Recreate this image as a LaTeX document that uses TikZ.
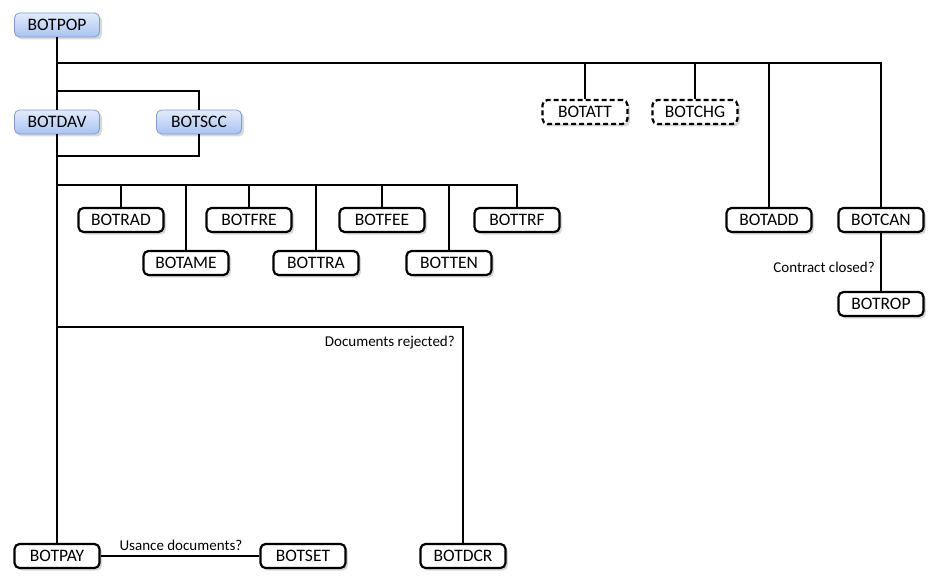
\documentclass[tikz,border=0pt]{standalone}
\usepackage{fontspec}
\setmainfont{Carlito}
\usetikzlibrary{shadows}
\definecolor{bltop}{HTML}{E2EBFC}
\definecolor{blbot}{HTML}{A9C3F0}
\definecolor{blln}{HTML}{7F9CD0}
\tikzset{b/.style={draw,rounded corners=5pt,line width=2.2pt,fill=white,minimum width=85pt,minimum height=24pt,inner sep=0pt,font=\fontsize{17.5}{20}\selectfont,drop shadow={shadow xshift=2.5pt,shadow yshift=-2.5pt,opacity=.3}},bl/.style={b,draw=blln,line width=.8pt,top color=bltop,bottom color=blbot},dsh/.style={b,dash pattern=on 5pt off 3pt},ln/.style={line width=2.4pt},lbl/.style={font=\fontsize{15}{18}\selectfont,inner sep=2pt}}
\begin{document}
\begin{tikzpicture}[x=1pt,y=-1pt]
\useasboundingbox(0,0)rectangle(940,583);
\node[bl](pop)at(57,25){BOTPOP};\node[bl](dav)at(57,122){BOTDAV};\node[bl](scc)at(199,122){BOTSCC};
\node[dsh](att)at(585,112){BOTATT};\node[dsh](chg)at(695,112){BOTCHG};
\node[b](rad)at(121,220){BOTRAD};\node[b](ame)at(186,263){BOTAME};\node[b](fre)at(249,220){BOTFRE};
\node[b](tra)at(316,263){BOTTRA};\node[b](fee)at(382,220){BOTFEE};\node[b](ten)at(449,263){BOTTEN};
\node[b](trf)at(517,220){BOTTRF};\node[b](add)at(769,220){BOTADD};\node[b](can)at(881,220){BOTCAN};
\node[b](rop)at(881,304){BOTROP};
\node[b](pay)at(57,556){BOTPAY};\node[b](set)at(303,556){BOTSET};\node[b](dcr)at(463,556){BOTDCR};
\coordinate(j1)at(57,63);\coordinate(j2)at(57,91);\coordinate(j3)at(57,156);
\coordinate(j4)at(57,185);\coordinate(j5)at(57,327);
% trunk
\draw[ln](pop)--(dav);\draw[ln](dav)--(pay);
\draw[ln](j2)-|(scc);\draw[ln](scc)|-(j3);
\draw[ln](j1)-|(can);
\foreach\n in{att,chg,add}\draw[ln](j1-|\n)--(\n);
\draw[ln](j4)-|(trf);
\foreach\n in{rad,ame,fre,tra,fee,ten}\draw[ln](j4-|\n)--(\n);
\draw[ln](j5)-|(dcr);
\draw[ln](can)--(rop);
\draw[ln](pay)--(set);
\node[lbl,anchor=east](rej)at(457,343){Documents rejected?};
\node[lbl](usn)at(181,545){Usance documents?};
\node[lbl,anchor=east](cls)at(877,267){Contract closed?};
\end{tikzpicture}
\end{document}
